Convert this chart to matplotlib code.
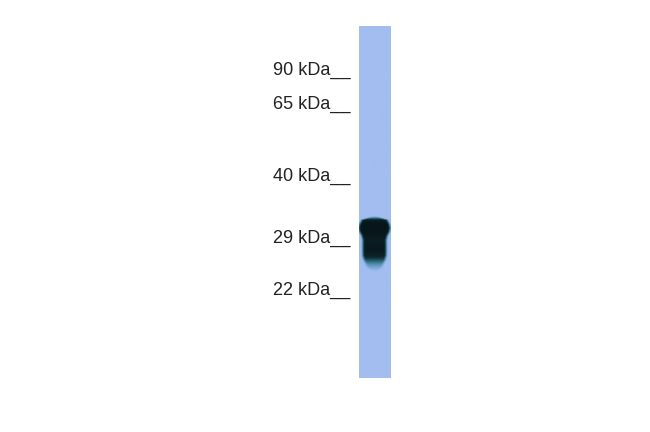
import numpy as np
import matplotlib
matplotlib.use("Agg")
import matplotlib.pyplot as plt
from matplotlib.colors import LinearSegmentedColormap

plt.rcParams['font.family'] = ['Liberation Sans', 'DejaVu Sans']

# marker labels and where they sit on the blot (pixel rows)
marker_labels = ['90 kDa__', '65 kDa__', '40 kDa__', '29 kDa__', '22 kDa__']
marker_rows = [68, 102, 174, 236, 288]

# band, one entry every 4 pixel rows
band_rows = [216, 220, 224, 228, 232, 236, 240, 244, 248, 252, 256, 260, 264, 268, 272]
band_halfwidth = [0, 13, 15, 16, 15, 13, 12, 12, 12, 12, 12, 11, 9, 7, 0]
band_density = [0.0, 0.9, 1.0, 1.0, 1.0, 0.95, 0.9, 0.93, 0.95, 0.93, 0.84, 0.62, 0.38, 0.18, 0.0]

lane_left, lane_right = 359, 391
lane_top, lane_bottom = 26, 378
band_center = 374.5

fig = plt.figure(figsize=(6.5, 4.32), dpi=100)
ax = fig.add_axes([0, 0, 1, 1])
ax.set_xlim(0, 650)
ax.set_ylim(432, 0)
ax.axis('off')

# lane colour running from empty membrane through teal smear to black band
blot_cmap = LinearSegmentedColormap.from_list(
    'blot', ['#a3bdf0', '#6fa0cc', '#2f7482', '#0e2a31', '#07161a'])

xs = np.arange(lane_left, lane_right + 1)
ys = np.arange(lane_top, lane_bottom + 1)
hw = np.interp(ys, band_rows, band_halfwidth)
dens = np.interp(ys, band_rows, band_density)
dist = np.abs(xs - band_center)[None, :]
edge = np.clip((hw[:, None] - dist) / 3.5 + 0.5, 0, 1)
img = edge * dens[:, None]

ax.imshow(img, cmap=blot_cmap, vmin=0, vmax=1, interpolation='bicubic', aspect='auto',
          extent=[lane_left, lane_right, lane_bottom, lane_top], zorder=1)
ax.set_xlim(0, 650)
ax.set_ylim(432, 0)

for label, row in zip(marker_labels, marker_rows):
    ax.text(273, row, label, fontsize=13, color='#222222', ha='left', va='center_baseline')

fig.savefig('out.png', dpi=100, facecolor='white')
